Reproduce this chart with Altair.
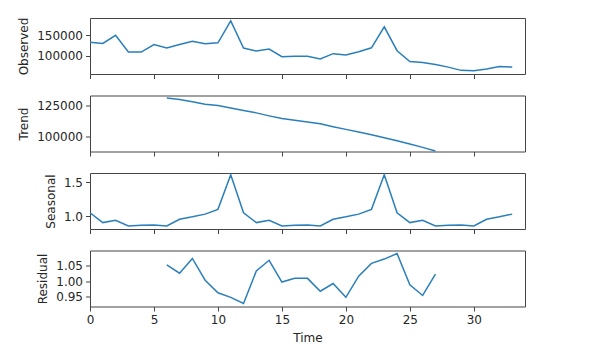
import altair as alt
import pandas as pd

time_all = list(range(34))
observed = [132500, 129400, 149200, 108700, 108700, 127000, 118300, 127000, 135000, 128600,
            131000, 184100, 118300, 111100, 115900, 97600, 98400, 98400, 92000, 104800,
            101600, 109500, 119000, 169800, 111900, 85700, 83300, 78600, 72200, 64300,
            63500, 67500, 73800, 72200]
time_mid = list(range(6, 28))
trend = [130900, 129600, 127700, 125800, 124700, 122800, 120700, 118800, 116400, 114200,
         112900, 111500, 110000, 107700, 105500, 103400, 101200, 98800, 96400, 93700,
         91000, 88000]
seasonal = [1.05, 0.905, 0.94, 0.855, 0.865, 0.87, 0.855, 0.955, 0.99, 1.03, 1.10, 1.61,
            1.05, 0.905, 0.94, 0.855, 0.865, 0.87, 0.855, 0.955, 0.99, 1.03, 1.10, 1.61,
            1.05, 0.905, 0.94, 0.855, 0.865, 0.87, 0.855, 0.955, 0.99, 1.03]
residual = [1.053, 1.026, 1.074, 1.003, 0.962, 0.947, 0.927, 1.033, 1.068, 0.997,
            1.009, 1.009, 0.967, 0.992, 0.947, 1.016, 1.058, 1.072, 1.090, 0.988,
            0.953, 1.023]

x_ticks = [0, 5, 10, 15, 20, 25, 30]
LINE = "#2a7fba"
FONT = "DejaVu Sans"
TXT = "#262626"
W, H = 435, 56


def panel(df, col, title, domain, yticks, fmt, bottom=False):
    if bottom:
        xaxis = alt.Axis(values=x_ticks, title="Time", labels=True, tickSize=4.5,
                         labelPadding=3, titlePadding=7, grid=False, domain=False,
                         labelFlush=False)
    else:
        xaxis = alt.Axis(values=x_ticks, title=None, labels=False, tickSize=4.5,
                         grid=False, domain=False)
    return alt.Chart(df).mark_line(color=LINE, strokeWidth=1.5).encode(
        x=alt.X("t:Q", scale=alt.Scale(domain=[0, 34], nice=False, zero=False), axis=xaxis),
        y=alt.Y(f"{col}:Q", scale=alt.Scale(domain=domain, nice=False, zero=False),
                axis=alt.Axis(values=yticks, format=fmt, title=title, tickSize=4.5,
                              labelPadding=3, titlePadding=6, grid=False, domain=False)),
    ).properties(width=W, height=H)


df_obs = pd.DataFrame({"t": time_all, "v": observed})
df_tr = pd.DataFrame({"t": time_mid, "v": trend})
df_se = pd.DataFrame({"t": time_all, "v": seasonal})
df_re = pd.DataFrame({"t": time_mid, "v": residual})

p1 = panel(df_obs, "v", "Observed", [55500, 191200], [100000, 150000], "d")
p2 = panel(df_tr, "v", "Trend", [87660, 132820], [100000, 125000], "d")
p3 = panel(df_se, "v", "Seasonal", [0.811, 1.635], [1.0, 1.5], ".1f")
p4 = panel(df_re, "v", "Residual", [0.917, 1.100], [0.95, 1.00, 1.05], ".2f", bottom=True)

chart = alt.vconcat(p1, p2, p3, p4, spacing=21.5, bounds="flush").properties(
    padding={"left": 9, "top": 8, "right": 5, "bottom": 5},
    background="white"
).configure_view(
    stroke="#444444", strokeWidth=1
).configure_axis(
    labelFont=FONT, titleFont=FONT, labelFontSize=12, titleFontSize=12,
    labelColor=TXT, titleColor=TXT, titleFontWeight="normal",
    tickColor="#444444", tickWidth=1
)

chart.save("out.html", embed_options={"renderer": "svg", "actions": False})
